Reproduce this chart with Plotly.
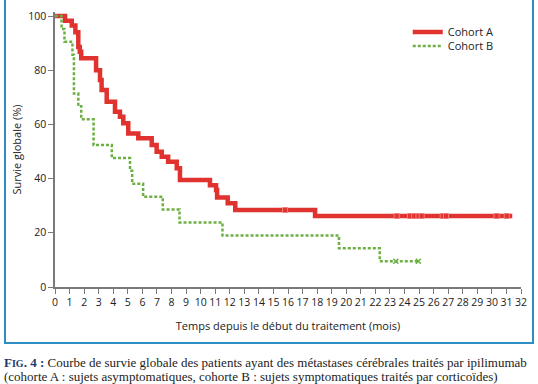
import plotly.graph_objects as go
import numpy as np

# Cohort A (red) step function: time (months) and survival (%)
times_A = [0, 0.69, 1.15, 1.4, 1.6, 1.7, 1.8, 2.82, 3.09, 3.2, 3.55, 4.12, 4.46, 4.69, 5.03,
           5.72, 6.64, 6.98, 7.33, 7.77, 8.36, 8.58, 10.64, 11.06, 11.13, 11.86, 12.38, 17.86, 31.4]
surv_A = [100, 98.3, 96.5, 94, 88.6, 86.8, 84.4, 80, 76.4, 72.7, 68.4, 64.7, 62.8, 60.4, 56.7,
          54.9, 52.4, 49.9, 48.1, 46.2, 43.8, 39.5, 37.6, 35.8, 33, 30.9, 28.4, 26.2, 26.2]
censor_A = [15.8, 23.47, 24.38, 24.66, 24.96, 25.18, 26.62, 26.85, 30.33, 31.02]

# Cohort B (green) step function
times_B = [0, 0.45, 0.65, 1.2, 1.3, 1.6, 1.8, 2.65, 3.9, 5.15, 5.3, 6.05, 7.4, 8.55, 11.5, 19.5, 22.3, 24.95]
surv_B = [100, 95.2, 90.5, 85.7, 71.4, 66.7, 61.9, 52.4, 47.6, 42.9, 38.1, 33.3, 28.6, 23.8, 19.0, 14.3, 9.5, 9.5]
censor_B = [23.4, 24.95]

x_ticks = list(range(0, 33))
y_ticks = [0, 20, 40, 60, 80, 100]

RED = "#e0322f"
GREEN = "#6cb043"


def step_value(times, surv, t):
    idx = np.searchsorted(times, t, side="right") - 1
    return surv[max(idx, 0)]


fig = go.Figure()
fig.add_trace(go.Scatter(x=times_A, y=surv_A, mode="lines", line_shape="hv",
                         line=dict(color=RED, width=4.5), name="Cohort A", legend="legend"))
fig.add_trace(go.Scatter(x=times_B, y=surv_B, mode="lines", line_shape="hv",
                         line=dict(color=GREEN, width=2.5, dash="3px,2px"), name="Cohort B",
                         legend="legend2"))
fig.add_trace(go.Scatter(x=censor_A, y=[step_value(times_A, surv_A, t) for t in censor_A],
                         mode="markers", showlegend=False,
                         marker=dict(symbol="square", size=5, color=RED,
                                     line=dict(color="#f08080", width=1))))
fig.add_trace(go.Scatter(x=censor_B, y=[step_value(times_B, surv_B, t) for t in censor_B],
                         mode="markers", showlegend=False,
                         marker=dict(symbol="x-thin-open", size=5, color=GREEN,
                                     line=dict(color=GREEN, width=1.5))))

font_family = "Open Sans, Noto Sans, sans-serif"
axis_font = dict(family=font_family, size=10.5, color="#222")
title_font = dict(family=font_family, size=11, color="#222")
leg_font = dict(family=font_family, size=11, color="#222")

PH = 275  # plot height in px

fig.update_layout(
    width=538, height=384,
    margin=dict(l=55, r=17, t=12, b=97, autoexpand=False),
    paper_bgcolor="white", plot_bgcolor="white",
    showlegend=True,
    legend=dict(x=0.757, y=(287 - 32) / PH, xanchor="left", yanchor="middle",
                font=leg_font, bgcolor="rgba(0,0,0,0)", itemwidth=30),
    legend2=dict(x=0.757, y=(287 - 46) / PH, xanchor="left", yanchor="middle",
                 font=leg_font, bgcolor="rgba(0,0,0,0)", itemwidth=30),
    xaxis=dict(range=[0, 32], tickmode="array", tickvals=x_ticks,
               ticktext=[str(v) for v in x_ticks], automargin=False,
               showline=True, linecolor="#7a7a7a", linewidth=1.5,
               ticks="outside", ticklen=5, tickcolor="#7a7a7a", tickwidth=1,
               showgrid=False, zeroline=False, tickfont=axis_font,
               title=dict(text="Temps depuis le début du traitement (mois)",
                          font=title_font, standoff=14)),
    yaxis=dict(range=[0, 101.5], tickmode="array", tickvals=y_ticks,
               ticktext=[str(v) for v in y_ticks], automargin=False,
               showline=True, linecolor="#7a7a7a", linewidth=1.5,
               ticks="outside", ticklen=5, tickcolor="#7a7a7a", tickwidth=1,
               showgrid=False, zeroline=False, tickfont=axis_font,
               title=dict(text="Survie globale (%)", font=title_font, standoff=4)),
)

# Blue frame around the figure panel
fig.add_shape(type="rect", xref="paper", yref="paper",
              x0=(5 - 55) / 466, x1=(533 - 55) / 466, y0=(287 - 343) / PH, y1=(287 + 1) / PH,
              line=dict(color="#2e8ec4", width=2), fillcolor="rgba(0,0,0,0)", layer="below")

cap_font = dict(family="Liberation Serif, DejaVu Serif, serif", size=13, color="#222")
fig.add_annotation(xref="paper", yref="paper", x=(2 - 55) / 466, y=(287 - 362) / PH, xanchor="left",
                   yanchor="middle", showarrow=False, font=cap_font,
                   text="<b><span style='color:#1d3a6e'>F<span style='font-size:10px'>IG</span>. 4 :</span></b> "
                        "Courbe de survie globale des patients ayant des métastases cérébrales traités par ipilimumab")
fig.add_annotation(xref="paper", yref="paper", x=(2 - 55) / 466, y=(287 - 376.5) / PH, xanchor="left",
                   yanchor="middle", showarrow=False, font=cap_font,
                   text="(cohorte A : sujets asymptomatiques, cohorte B : sujets symptomatiques traités par corticoïdes)")

# remove the default 8px page margin so the figure fills the window exactly
fig.write_html("out.html", config={"displayModeBar": False},
               post_script="document.body.style.margin='0px';")
